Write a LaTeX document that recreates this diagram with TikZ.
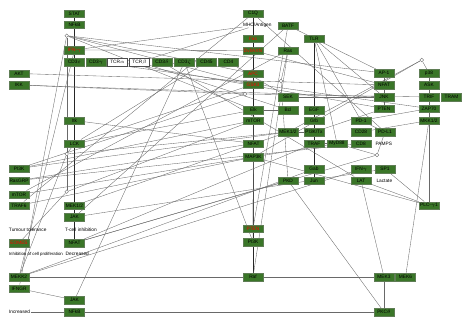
\documentclass[tikz,border=0pt]{standalone}
\usepackage{fontspec}
\setmainfont{Liberation Sans}
\pgfdeclarelayer{bg}
\pgfsetlayers{bg,main}
\begin{document}
\begin{tikzpicture}[x=1pt,y=-1pt,
  gn/.style={draw={rgb,255:red,95;green,125;blue,85}, fill={rgb,255:red,58;green,118;blue,40}, minimum width=20pt, minimum height=7.5pt, inner sep=0pt, line width=0.4pt, font=\fontsize{4.8}{5}\selectfont, text=black},
  rn/.style={gn, text=red},
  wn/.style={gn, fill=white, draw=black!70},
  lb/.style={font=\fontsize{4.8}{5}\selectfont, anchor=west, inner sep=0.3pt},
  cc/.style={circle, draw=black!60, fill=white, minimum size=3.6pt, inner sep=0pt, line width=0.35pt},
  ln/.style={draw={rgb,255:red,105;green,105;blue,105}, line width=0.35pt},
  dk/.style={draw=black!85, line width=0.5pt}]
\useasboundingbox (0,0) rectangle (466,326);
% column A
\node[gn] (akt) at (19,73.5) {AKT};
\node[gn] (ikk) at (19,85) {IKK};
\node[gn] (pi3k) at (19,168.5) {PI3K};
\node[gn] (rasgrp) at (19,180.5) {RasGRP};
\node[gn] (mtorA) at (19,194.5) {mTOR};
\node[gn] (traf6) at (19,205.5) {TRAF6};
\node[rn] (eomes) at (19,243) {EOMES};
\node[gn] (mekk2) at (19,277) {MEKK2};
\node[gn] (ifngr) at (19,288.5) {IFNGR};
% column B
\node[gn] (stat) at (74.5,13.5) {STAT};
\node[gn] (nfkbT) at (74.5,24.5) {NFkB};
\node[rn] (ifnred) at (74.5,50) {IFN-$\gamma$};
\node[gn] (cd3e) at (74.5,62) {CD3$\varepsilon$};
\node[gn] (itk) at (74.5,120.5) {Itk};
\node[gn] (lck) at (74.5,143.5) {LCK};
\node[gn] (mek12B) at (74.5,205.5) {MEK1/2};
\node[gn] (jakT) at (74.5,217) {JAK};
\node[gn] (nfatB) at (74.5,243) {NFAT};
\node[gn] (jakB) at (74.5,300) {JAK};
\node[gn] (nfkbB) at (74.5,312) {NFkB};
% CD3 row
\node[gn] (cd3g) at (96,62) {CD3$\gamma$};
\node[wn] (tcra) at (117.5,62) {TCR$\alpha$};
\node[wn] (tcrb) at (139.5,62) {TCR$\beta$};
\node[gn] (cd3d) at (162,62) {CD3$\delta$};
\node[gn] (cd3z) at (184.5,62) {CD3$\zeta$};
\node[gn] (cd45) at (206.5,62) {CD45};
\node[gn] (cd4) at (228.5,62) {CD4};
% column C
\node[gn] (ciq) at (253,13.5) {C1Q};
\node[lb] (mhc) at (242.5,25) {MHC/Antigen};
\node[rn] (fas) at (253,38.5) {Fas};
\node[rn] (dvl) at (253,50.5) {Dvl/AXN};
\node[rn] (apc) at (253,73.5) {APC};
\node[rn] (gsk) at (253,84.5) {GSK3};
\node[gn] (elk) at (253.5,110) {Elk};
\node[gn] (mtorC) at (253.5,120.5) {mTOR};
\node[gn] (nfatC) at (253.5,143.5) {NFAT};
\node[gn] (map3k) at (253.5,157) {MAP3K};
\node[rn] (ptpn) at (253,228.5) {PTEN};
\node[gn] (pi3kc) at (253,242) {PI3K};
\node[gn] (raf) at (253,277) {Raf};
% column D
\node[gn] (batf) at (288,25.5) {BATF};
\node[gn] (ras) at (288,50.5) {Ras};
\node[gn] (sek) at (288,97) {SEK};
\node[gn] (bcl) at (288,110) {Bcl};
\node[gn] (mek12D) at (288,132) {MEK1/2};
\node[gn] (pkd) at (288,180.5) {PKD};
% column E
\node[gn] (tlr) at (314,38.5) {TLR};
\node[gn] (egf) at (314,110) {EGF};
\node[gn] (grb) at (314,120.5) {Grb};
\node[gn] (pi3kE) at (314,132) {PI3K/Tx};
\node[gn] (traf) at (314,143.5) {TRAF};
\node[gn] (gab) at (314,169) {Gab};
\node[gn] (jun) at (314,180.5) {Jun};
\node[gn] (myd88) at (337,143.5) {MyD88};
% column F
\node[gn] (pd1) at (361,120.5) {PD-1};
\node[gn] (cd28) at (361,132) {CD28};
\node[gn] (cd8) at (361,143.5) {CD8};
\node[gn] (ifng) at (361,169) {IFN$\gamma$};
\node[gn] (lat) at (361,180.5) {LAT};
% column G
\node[gn] (ap1) at (384,73) {AP-1};
\node[gn] (nfatG) at (384,85) {NFAT};
\node[gn] (jnk) at (384,97) {JNK};
\node[gn] (pten) at (384,108.5) {PTEN};
\node[gn] (pdl1) at (385,132) {PD-L1};
\node[lb] (pamps) at (375,143.5) {PAMPS};
\node[gn] (sp1) at (385,169) {SP1};
\node[lb] (lactate) at (376,180.5) {Lactate};
\node[gn] (mek3) at (384,277) {MEK3};
\node[gn] (pkct) at (384,312) {PKC$\theta$};
% column H
\node[gn] (p38) at (429,73) {p38};
\node[gn] (ask) at (429,85) {ASK};
\node[gn] (trif) at (429,97) {TRIF};
\node[gn] (zap70) at (429,108.5) {ZAP70};
\node[gn] (mkk12) at (429,120.5) {MKK1/2};
\node[gn] (plcg) at (429,205.5) {PLC-$\gamma$1};
\node[gn] (tram) at (451.5,97) {TRAM};
\node[gn] (mek6) at (405.5,277) {MEK6};
% labels
\node[lb] (tumour) at (8.5,229.5) {Tumour tolerance};
\node[lb] (tcinh) at (64.5,229.5) {T-cell inhibition};
\node[lb, font=\fontsize{4.35}{5}\selectfont] (inhib) at (8.5,254) {Inhibition of cell proliferation};
\node[lb] (decr) at (65.2,254) {Decreased};
\node[lb] (incr) at (8.5,312) {Increased};
% circles
\node[cc] (c1) at (66.7,35.7) {};
\node[cc] (c2) at (281,81) {};
\node[cc] (c3) at (245,94) {};
\node[cc] (c4) at (421.7,60) {};
\node[cc] (c5) at (66.7,154) {};
\node[cc] (c6) at (66.7,191.7) {};
\node[cc] (c7) at (377,155) {};
\begin{pgfonlayer}{bg}
\draw[dk] (stat) -- (nfkbT);
\draw[dk] (nfkbT) -- (jakT);
\draw[dk] (jakT) -- (nfatB);
\draw[dk] (ciq) -- (raf);
\draw[dk] (tlr) -- (jun);
\draw[ln] (mekk2) -- (mek3);
\draw[ln] (incr) -- (pkct);
\draw[ln] (ifnred) -- (dvl);
\draw[ln] (ifnred) -- (mhc);
\draw[ln] (lat) -- (mek3);
\draw[ln] (mek3) -- (pkct);
\draw[ln] (pkd) -- (pkct);
\draw[ln] (pkd) -- (nfatB);
\draw[ln] (ifng) -- (mekk2);
\draw[ln] (mkk12) -- (mek6);
\draw[ln] (sp1) -- (plcg);
\draw[ln] (lat) -- (plcg);
\draw[ln] (mkk12) -- (plcg);
\draw[ln] (ifngr) -- (jakB);
\draw[ln] (c1) -- (ifngr);
\draw[ln] (c1) -- (gsk);
\draw[ln] (c1) -- (elk);
\draw[ln] (c1) -- (ap1);
\draw[ln] (c1) -- (apc);
\draw[ln] (akt) -- (nfatG);
\draw[ln] (ikk) -- (c3);
\draw[ln] (ikk) -- (jnk);
\draw[ln] (batf) -- (jakT);
\draw[ln] (batf) -- (ptpn);
\draw[ln] (ras) -- (raf);
\draw[ln] (ras) -- (mtorA);
\draw[ln] (ciq) -- (pdl1);
\draw[ln] (tlr) -- (jnk);
\draw[ln] (tlr) -- (pd1);
\draw[ln] (tlr) -- (myd88);
\draw[ln] (dvl) -- (nfatG);
\draw[ln] (batf) -- (ap1);
\draw[ln] (mek12D) -- (c4);
\draw[ln] (c4) -- (p38);
\draw[ln] (p38) -- (ask);
\draw[ln] (ask) -- (trif);
\draw[ln] (trif) -- (zap70);
\draw[ln] (zap70) -- (mkk12);
\draw[ln] (c4) -- (map3k);
\draw[ln] (pi3k) -- (mek12D);
\draw[ln] (pi3k) -- (mtorC);
\draw[ln] (lck) -- (gsk);
\draw[ln] (lck) -- (elk);
\draw[ln] (c5) -- (mekk2);
\draw[ln] (c5) -- (lck);
\draw[ln] (c5) -- (mek12D);
\draw[ln] (ifnred) -- (mekk2);
\draw[ln] (c1) -- (c6);
\draw[ln] (rasgrp) -- (nfatC);
\draw[ln] (rasgrp) -- (cd8);
\draw[ln] (traf6) -- (map3k);
\draw[ln] (mek12B) -- (mek12D);
\draw[ln] (c6) -- (mtorC);
\draw[ln] (map3k) -- (plcg);
\draw[ln] (nfatB) -- (traf);
\draw[ln] (nfatB) -- (c7);
\draw[ln] (mekk2) -- (gab);
\draw[ln] (eomes) -- (c6);
\draw[ln] (tcrb) -- (bcl);
\draw[ln] (tcra) -- (pten);
\draw[ln] (cd3z) -- (jakB);
\draw[ln] (cd3z) -- (pi3kc);
\draw[ln] (ciq) -- (traf6);
\draw[ln] (ras) -- (c2);
\draw[ln] (c2) -- (pkd);
\draw[ln] (c3) -- (trif);
\draw[ln] (c3) -- (pi3k);
\draw[ln] (c7) -- (pdl1);
\draw[ln] (c7) -- (myd88);
\draw[ln] (myd88) -- (traf);
\draw[ln] (ap1) -- (pten);
\draw[ln] (pd1) -- (pdl1);
\draw[ln] (zap70) -- (pd1);
\draw[ln] (cd28) -- (mkk12);
\draw[ln] (pten) -- (pi3kE);
\draw[ln] (cd3g) -- (zap70);
\draw[ln] (cd4) -- (sek);
\draw[ln] (cd45) -- (lck);
\draw[ln] (cd3d) -- (lat);
\draw[ln] (mhc) -- (tcrb);
\draw[ln] (elk) -- (bcl);
\draw[ln] (mek12D) -- (pi3kE);
\draw[ln] (sek) -- (jnk);
\draw[ln] (itk) -- (nfatC);
\draw[ln] (jakT) -- (sp1);
\draw[ln] (mtorA) -- (myd88);
\draw[ln] (nfatC) -- (ptpn);
\draw[ln] (mtorC) -- (pi3kc);
\end{pgfonlayer}
\end{tikzpicture}
\end{document}
